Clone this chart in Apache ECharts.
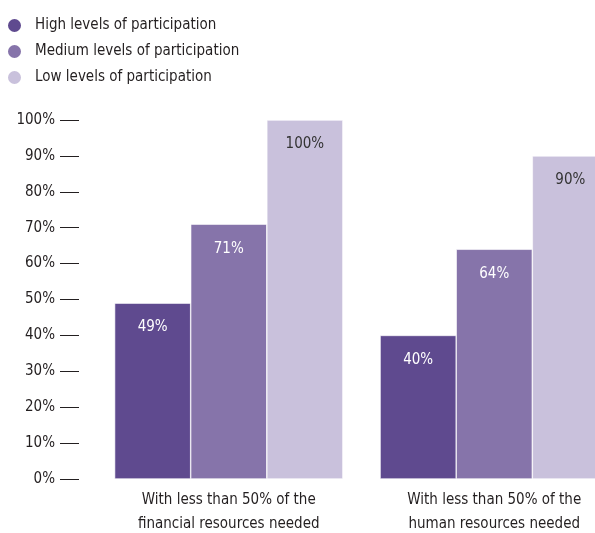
<!DOCTYPE html>
<html>
<head>
<meta charset="utf-8">
<script src="https://cdn.jsdelivr.net/npm/echarts@6/dist/echarts.min.js"></script>
<style>
  html, body { margin: 0; padding: 0; background: #ffffff; }
  #chart { width: 595px; height: 533px; }
</style>
</head>
<body>
<div id="chart"></div>
<script>
// Share of entities under-resourced, by level of participation
const categories = [
  'With less than 50% of the\nfinancial resources needed',
  'With less than 50% of the\nhuman resources needed'
];
const seriesNames = [
  'High levels of participation',
  'Medium levels of participation',
  'Low levels of participation'
];
const highValues = [49, 40];
const mediumValues = [71, 64];
const lowValues = [100, 90];
const yTicks = [0, 10, 20, 30, 40, 50, 60, 70, 80, 90, 100];

const colors = ['#5f4a8f', '#8674aa', '#c9c1dc'];
const labelColors = ['#ffffff', '#ffffff', '#333333'];
const fontFamily = '"Liberation Sans Narrow", "DejaVu Sans Condensed", "Roboto", sans-serif';
const textColor = '#231f20';

const chart = echarts.init(document.getElementById('chart'), null, { renderer: 'canvas' });

function makeSeries(name, values, idx) {
  return {
    name: name,
    type: 'bar',
    data: values,
    barGap: '0%',
    barCategoryGap: '14%',
    itemStyle: { color: colors[idx], borderColor: '#ffffff', borderWidth: 0.6 },
    label: {
      show: true,
      position: 'insideTop',
      distance: 17,
      formatter: '{c}%',
      color: labelColors[idx],
      fontFamily: fontFamily,
      fontSize: 15
    },
    emphasis: { disabled: true }
  };
}

chart.setOption({
  animation: false,
  textStyle: { fontFamily: fontFamily },
  color: colors,
  legend: {
    orient: 'vertical',
    left: 1,
    top: 12,
    icon: 'circle',
    itemWidth: 15,
    itemHeight: 15,
    itemGap: 9,
    data: seriesNames,
    textStyle: { color: textColor, fontSize: 15, fontFamily: fontFamily, padding: [0, 0, 0, 8] }
  },
  grid: { left: 96, top: 120, right: -32, bottom: 54, containLabel: false, outerBoundsMode: 'none' },
  xAxis: {
    type: 'category',
    data: categories,
    axisLine: { show: false },
    axisTick: { show: false },
    axisLabel: {
      interval: 0,
      color: textColor,
      fontSize: 15,
      lineHeight: 24,
      margin: 9,
      fontFamily: fontFamily
    }
  },
  yAxis: {
    type: 'value',
    min: yTicks[0],
    max: yTicks[yTicks.length - 1],
    interval: 10,
    offset: 17,
    axisLine: { show: false },
    axisTick: { show: true, length: 19, lineStyle: { color: '#231f20', width: 1 } },
    splitLine: { show: false },
    axisLabel: {
      formatter: '{value}%',
      color: textColor,
      fontSize: 15,
      margin: 24,
      fontFamily: fontFamily
    }
  },
  series: [
    makeSeries(seriesNames[0], highValues, 0),
    makeSeries(seriesNames[1], mediumValues, 1),
    makeSeries(seriesNames[2], lowValues, 2)
  ]
});
</script>
</body>
</html>
